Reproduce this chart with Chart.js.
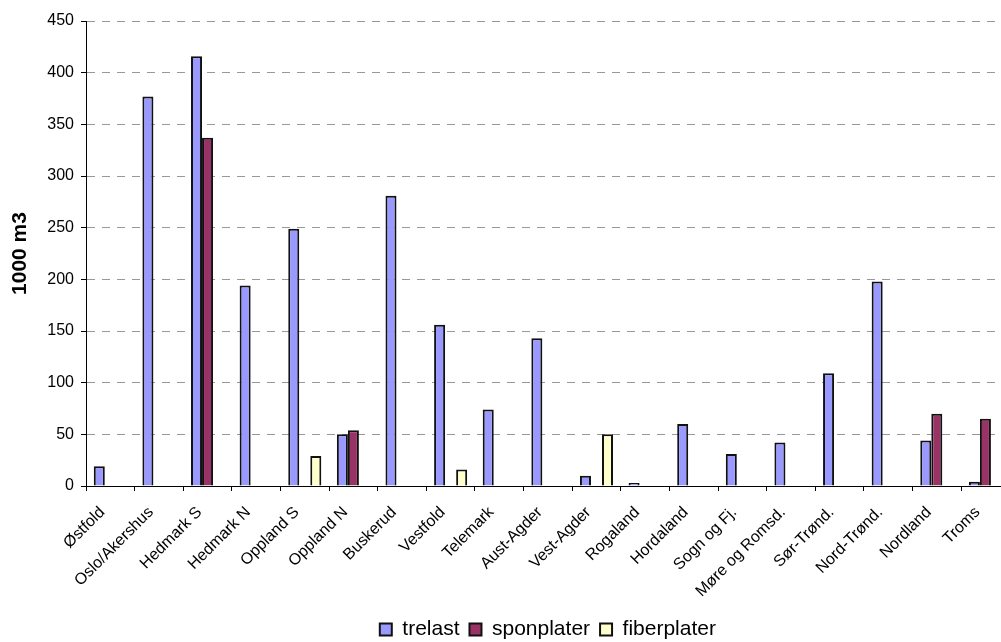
<!DOCTYPE html>
<html>
<head>
<meta charset="utf-8">
<title>Produksjon av trelast og plater</title>
<script src="https://cdn.jsdelivr.net/npm/chart.js@4/dist/chart.umd.min.js"></script>
<style>
  html, body { margin: 0; padding: 0; background: #fff; overflow: hidden; width: 1001px; height: 642px; }
  canvas { display: block; }
</style>
</head>
<body>
<canvas id="c" width="1011" height="642"></canvas>
<script>
// Regions (fylker) along the category axis
const regions = ['Østfold', 'Oslo/Akershus', 'Hedmark S', 'Hedmark N', 'Oppland S', 'Oppland N',
  'Buskerud', 'Vestfold', 'Telemark', 'Aust-Agder', 'Vest-Agder', 'Rogaland', 'Hordaland',
  'Sogn og Fj.', 'Møre og Romsd.', 'Sør-Trønd.', 'Nord-Trønd.', 'Nordland', 'Troms'];

// Volumes in 1000 m3
const trelast     = [19, 377, 416, 194, 249, 50, 281, 156, 74, 143, 10, 3, 60, 31, 42, 109, 198, 44, 4];
const sponplater  = [null, null, 337, null, null, 54, null, null, null, null, null, null, null, null, null, null, null, 70, 65];
const fiberplater = [null, null, null, null, 29, null, null, 16, null, null, 50, null, null, null, null, null, null, null, null];

// Value axis
const yMin = 0, yMax = 450, yStep = 50;
const yTitle = '1000 m3';

const FONT = '"Liberation Sans", Arial, Helvetica, sans-serif';
Chart.defaults.font.family = FONT;
Chart.defaults.color = '#000';

const series = [
  { label: 'trelast',     data: trelast,     backgroundColor: '#9999FF' },
  { label: 'sponplater',  data: sponplater,  backgroundColor: '#993366' },
  { label: 'fiberplater', data: fiberplater, backgroundColor: '#FFFFCC' }
];

new Chart(document.getElementById('c'), {
  type: 'bar',
  data: {
    labels: regions,
    datasets: series.map(s => ({
      ...s,
      borderColor: '#111',
      borderWidth: 2,
      categoryPercentage: 0.68,
      barPercentage: 1.0
    }))
  },
  options: {
    responsive: false,
    animation: false,
    devicePixelRatio: 1,
    layout: { padding: { top: 21, left: 0, right: 0, bottom: -8 } },
    plugins: {
      tooltip: { enabled: false },
      legend: {
        position: 'bottom',
        fullSize: false,
        labels: {
          font: { size: 21 },
          color: '#000',
          boxWidth: 12,
          boxHeight: 12,
          padding: 10
        }
      }
    },
    scales: {
      x: {
        offset: true,
        grid: {
          display: true,
          drawOnChartArea: false,
          drawTicks: true,
          tickLength: 5,
          tickColor: '#000',
          offset: true
        },
        border: { display: true, color: '#000', width: 1 },
        ticks: {
          autoSkip: false,
          maxRotation: 45,
          minRotation: 45,
          padding: 12,
          labelOffset: -8,
          font: { size: 16 },
          color: '#000'
        },
        afterFit: (scale) => { scale.height = 123; }
      },
      y: {
        min: yMin,
        max: yMax,
        ticks: {
          stepSize: yStep,
          padding: 7,
          font: { size: 16 },
          color: '#000'
        },
        grid: {
          color: '#999',
          lineWidth: 1,
          tickLength: 5,
          tickColor: '#000',
          tickBorderDash: []
        },
        border: { display: true, color: '#000', width: 1, dash: [8, 7] },
        title: {
          display: true,
          text: yTitle,
          font: { size: 21, weight: 'bold' },
          color: '#000',
          padding: { top: 8, bottom: 0 }
        },
        afterFit: (scale) => { scale.width = 86; }
      }
    }
  }
});
</script>
</body>
</html>
